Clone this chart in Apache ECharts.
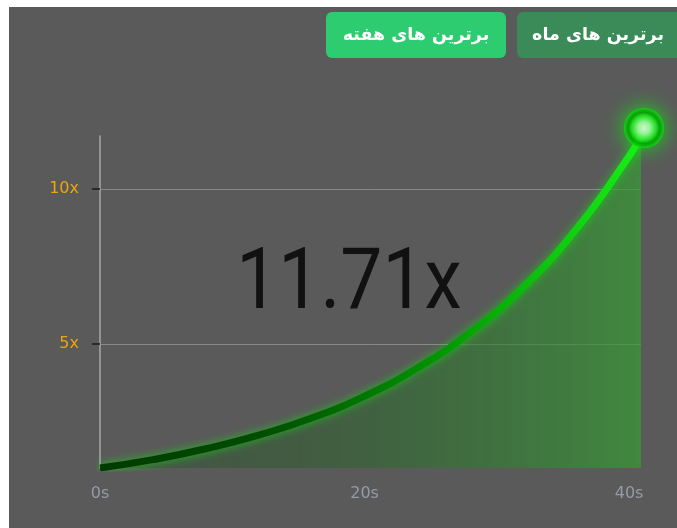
<!DOCTYPE html>
<html>
<head>
<meta charset="utf-8">
<script src="https://cdn.jsdelivr.net/npm/echarts@6/dist/echarts.min.js"></script>
<style>
html,body{margin:0;padding:0;background:#ffffff;width:677px;height:528px;overflow:hidden;}
#chart{position:absolute;left:9px;top:7px;width:668px;height:521px;background:#5a5a5a;}
</style>
</head>
<body>
<div id="chart"></div>
<script>
// data
const times = [0, 4, 8, 12, 16, 20, 24, 28, 32, 36, 40, 40.9];
const multipliers = [1.00, 1.27, 1.62, 2.06, 2.61, 3.32, 4.23, 5.38, 6.84, 8.70, 11.06, 11.71];
const xTickLabels = ['0s', '20s', '40s'];
const yTickValues = [5, 10];
const currentLabel = '11.71x';
const buttonLabels = ['برترین های هفته', 'برترین های ماه'];

const chart = echarts.init(document.getElementById('chart'));
const lineData = times.map((t, i) => [t, multipliers[i]]);
const last = lineData[lineData.length - 1];

chart.setOption({
  animation: false,
  grid: {left: 91, right: 36, top: 129, bottom: 60},
  xAxis: {
    type: 'value', min: 0, max: last[0], interval: 20,
    axisLine: {show: false}, axisTick: {show: false}, splitLine: {show: false},
    axisLabel: {
      margin: 18, color: '#959ba6', fontSize: 16, fontFamily: 'DejaVu Sans',
      formatter: v => (v % 20 === 0 ? xTickLabels[v / 20] : '')
    }
  },
  yAxis: {
    type: 'value', min: 1, max: last[1],
    axisLine: {show: true, lineStyle: {color: '#a8a8a8', width: 1.5}},
    axisTick: {show: true, length: 8, customValues: yTickValues, lineStyle: {color: '#1a1a1a', width: 1.5}},
    axisLabel: {customValues: yTickValues, margin: 21, color: '#eaa414', fontSize: 16, fontFamily: 'DejaVu Sans', formatter: v => v + 'x'},
    splitLine: {show: true, lineStyle: {color: '#888888', width: 1}}
  },
  series: [{
    type: 'line', data: lineData, smooth: true, symbol: 'none',
    lineStyle: {
      width: 7,
      color: new echarts.graphic.LinearGradient(0, 0, 1, 0, [
        {offset: 0, color: '#003a00'}, {offset: 0.3, color: '#004d00'},
        {offset: 0.6, color: '#009000'}, {offset: 1, color: '#18f018'}
      ]),
      shadowColor: 'rgba(0,255,0,0.55)', shadowBlur: 10
    },
    areaStyle: {
      origin: 'start',
      color: new echarts.graphic.LinearGradient(0, 0, 1, 0, [
        {offset: 0, color: 'rgba(20,70,20,0.35)'}, {offset: 0.45, color: 'rgba(40,100,40,0.7)'},
        {offset: 1, color: 'rgba(54,156,52,1)'}
      ])
    }
  }, {
    type: 'scatter', data: [last], symbolSize: 40, symbolOffset: [3, -8], z: 5,
    itemStyle: {
      color: new echarts.graphic.RadialGradient(0.5, 0.5, 0.5, [
        {offset: 0, color: '#ffffff'}, {offset: 0.3, color: '#b0ffb0'},
        {offset: 0.62, color: '#20e820'}, {offset: 0.78, color: '#00a000'}, {offset: 0.88, color: '#00b800'}, {offset: 1, color: '#10e010'}
      ]),
      shadowColor: '#00ff00', shadowBlur: 22
    }
  }],
  graphic: [
    {type: 'text', x: 340, y: 280, scaleY: 1.13, z: 10,
      style: {text: currentLabel, fontSize: 75, fontFamily: 'Roboto', fill: '#111111', align: 'center', verticalAlign: 'middle'}},
    {type: 'rect', shape: {x: 317, y: 5, width: 180, height: 46, r: 6}, style: {fill: '#2ecc71'}, z: 10},
    {type: 'text', x: 407, y: 28, z: 11, style: {text: buttonLabels[0], fontSize: 17.5, fontWeight: 'bold', fontFamily: 'DejaVu Sans', fill: '#ffffff', align: 'center', verticalAlign: 'middle'}},
    {type: 'rect', shape: {x: 508, y: 5, width: 200, height: 46, r: 6}, style: {fill: '#3a8b58'}, z: 10},
    {type: 'text', x: 589, y: 28, z: 11, style: {text: buttonLabels[1], fontSize: 17.5, fontWeight: 'bold', fontFamily: 'DejaVu Sans', fill: '#ffffff', align: 'center', verticalAlign: 'middle'}}
  ]
});
</script>
</body>
</html>
